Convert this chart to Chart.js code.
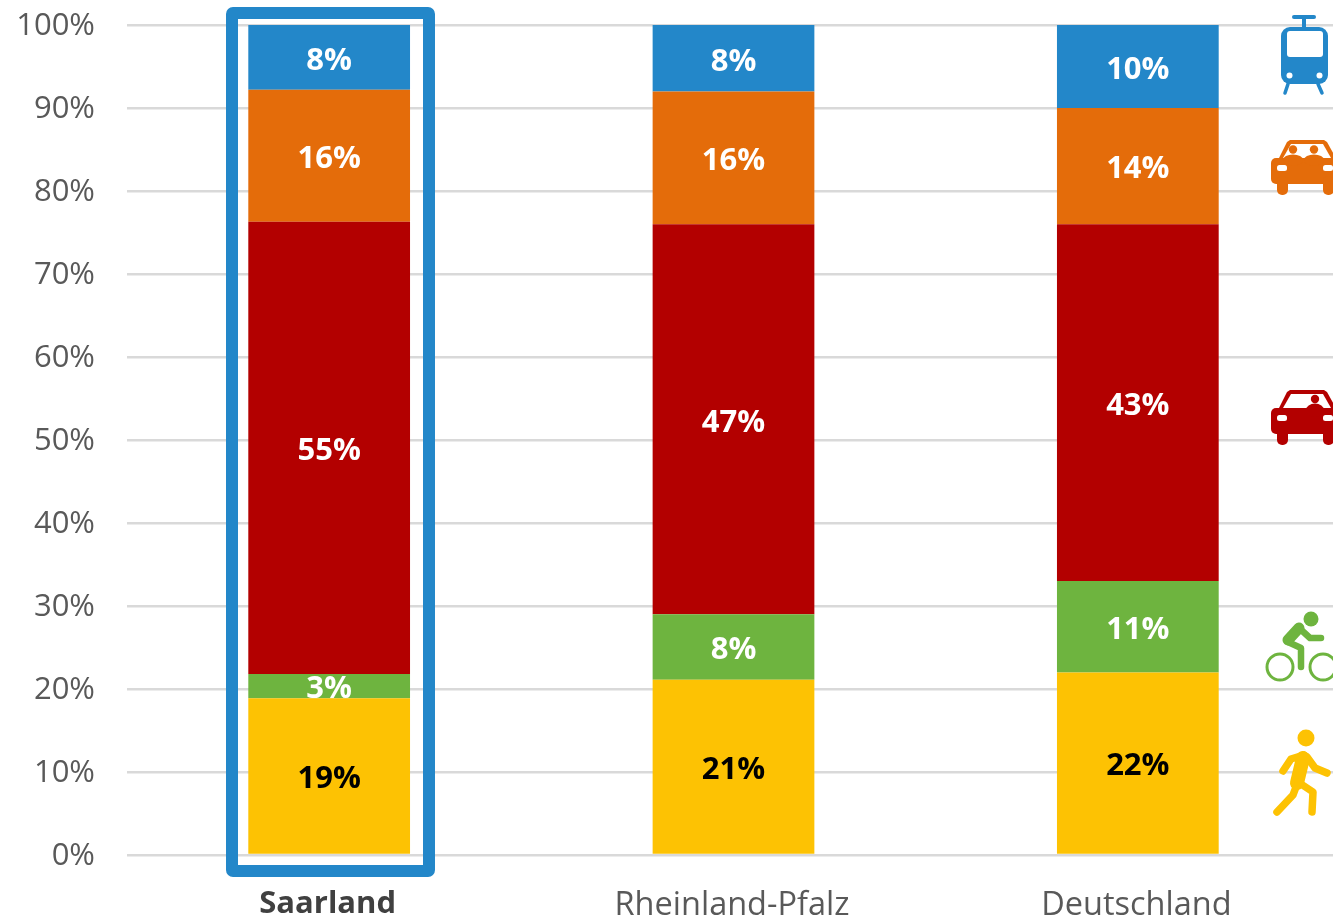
<!DOCTYPE html>
<html lang="de">
<head>
<meta charset="utf-8">
<style>
html,body{margin:0;padding:0;background:#fff;width:1333px;height:923px;overflow:hidden}
canvas{display:block}
</style>
<script src="https://cdn.jsdelivr.net/npm/chart.js@4"></script>
</head>
<body>
<canvas id="c" width="1340" height="923" style="width:1340px;height:923px"></canvas>
<script>
const categories = ['Saarland', 'Rheinland-Pfalz', 'Deutschland'];
const walking = [18.9, 21.1, 22];
const cycling = [2.9, 7.9, 11];
const carDriver = [54.5, 47, 43];
const carPassenger = [15.9, 16, 14];
const transit = [7.8, 8, 10];
const yTicks = ['0%','10%','20%','30%','40%','50%','60%','70%','80%','90%','100%'];
const BLUE='#2387c9', ORANGE='#e46c0a', RED='#b30000', GREEN='#6eb43f', YELLOW='#fdc203';
const FONT='"Open Sans", sans-serif';

function series(label,data,color,textColor){
  return {label,data,backgroundColor:color,textColor,borderWidth:0,stack:'s',barPercentage:0.4,categoryPercentage:1};
}

const labelsPlugin={id:'valueLabels',afterDatasetsDraw(chart){
  const ctx=chart.ctx;
  ctx.save();
  ctx.font='700 31px '+FONT;
  ctx.textAlign='center';
  ctx.textBaseline='middle';
  chart.data.datasets.forEach((ds,i)=>{
    chart.getDatasetMeta(i).data.forEach((el,j)=>{
      ctx.fillStyle=ds.textColor;
      ctx.fillText(Math.round(ds.data[j])+'%',el.x,(el.y+el.base)/2+3.5);
    });
  });
  ctx.restore();
}};

const framePlugin={id:'frame',afterDatasetsDraw(chart){
  const ctx=chart.ctx;
  ctx.save();
  ctx.strokeStyle=BLUE;
  ctx.lineWidth=12;
  ctx.lineJoin='round';
  ctx.beginPath();
  ctx.roundRect(232,13,197,858,1);
  ctx.stroke();
  ctx.restore();
}};

function line(ctx,pts,w,color){
  ctx.strokeStyle=color;ctx.lineWidth=w;ctx.lineCap='round';ctx.lineJoin='round';
  ctx.beginPath();
  pts.forEach((p,i)=>i?ctx.lineTo(p[0],p[1]):ctx.moveTo(p[0],p[1]));
  ctx.stroke();
}
function dot(ctx,x,y,r,color){ctx.fillStyle=color;ctx.beginPath();ctx.arc(x,y,r,0,Math.PI*2);ctx.fill();}
function rrect(ctx,x,y,w,h,r,color){ctx.fillStyle=color;ctx.beginPath();ctx.roundRect(x,y,w,h,r);ctx.fill();}
function poly(ctx,pts,color){
  ctx.fillStyle=color;ctx.beginPath();
  pts.forEach((p,i)=>i?ctx.lineTo(p[0],p[1]):ctx.moveTo(p[0],p[1]));
  ctx.closePath();ctx.fill();
}
function tram(ctx){
  const c=BLUE;
  rrect(ctx,1292,15,24,4,2,c);
  ctx.fillStyle=c;ctx.fillRect(1302,18,4,10);
  rrect(ctx,1281,27,47,57,9,c);
  rrect(ctx,1287,31,36,26,3,'#fff');
  dot(ctx,1289.5,75.5,3,'#fff');dot(ctx,1319.5,75.5,3,'#fff');
  line(ctx,[[1288,84],[1285,93]],3.5,c);
  line(ctx,[[1318,84],[1322,93]],3.5,c);
}
function car(ctx,y0,c,passenger){
  // y0 is the top of the roof
  ctx.lineJoin='round';
  poly(ctx,[[1278,y0+20],[1287,y0+2],[1290,y0],[1324,y0],[1327,y0+2],[1337,y0+20]],c);
  rrect(ctx,1271,y0+18,72,26,5,c);
  rrect(ctx,1277,y0+36,11,19,5,c);
  rrect(ctx,1323,y0+36,11,19,5,c);
  poly(ctx,[[1291,y0+4],[1323,y0+4],[1331,y0+18],[1283,y0+18]],'#fff');
  rrect(ctx,1277,y0+25,10,6,2.5,'#fff');
  rrect(ctx,1323,y0+25,10,6,2.5,'#fff');
  if(passenger){
    dot(ctx,1293,y0+9.5,4.2,c);dot(ctx,1314,y0+9.5,4.2,c);
    ctx.fillStyle=c;
    ctx.beginPath();ctx.ellipse(1293,y0+20,10,5.5,0,0,Math.PI*2);ctx.fill();
    ctx.beginPath();ctx.ellipse(1314,y0+20,10,5.5,0,0,Math.PI*2);ctx.fill();
  }else{
    dot(ctx,1315,y0+9,4.2,c);
    ctx.fillStyle=c;
    ctx.beginPath();ctx.ellipse(1315,y0+20,9,6.5,0,0,Math.PI*2);ctx.fill();
  }
}
function bike(ctx){
  const c=GREEN;
  dot(ctx,1311,619,7.5,c);
  [[1280,667],[1323,667]].forEach(p=>{
    ctx.strokeStyle=c;ctx.lineWidth=3;ctx.beginPath();ctx.arc(p[0],p[1],13,0,Math.PI*2);ctx.stroke();
  });
  line(ctx,[[1299,628],[1288,640]],11,c);
  line(ctx,[[1298,627],[1310,638],[1321,638]],6.5,c);
  line(ctx,[[1288,642],[1301,648],[1301,667]],6.5,c);
}
function walker(ctx){
  const c=YELLOW;
  dot(ctx,1306,738,8.5,c);
  line(ctx,[[1303,758],[1297,783]],14,c);
  line(ctx,[[1304,755],[1291,759],[1283,771]],7.5,c);
  line(ctx,[[1307,757],[1315,768],[1327,773]],7.5,c);
  line(ctx,[[1296,787],[1293,795],[1277,812]],7.5,c);
  line(ctx,[[1298,782],[1313,792],[1312,812]],7.5,c);
}
const iconPlugin={id:'icons',afterDraw(chart){
  const ctx=chart.ctx;
  ctx.save();
  tram(ctx);
  car(ctx,140,ORANGE,true);
  car(ctx,390,RED,false);
  bike(ctx);
  walker(ctx);
  ctx.restore();
}};

new Chart(document.getElementById('c'),{
  type:'bar',
  data:{
    labels:categories,
    datasets:[
      series('Zu Fuß',walking,YELLOW,'#000'),
      series('Fahrrad',cycling,GREEN,'#fff'),
      series('MIV Fahrer',carDriver,RED,'#fff'),
      series('MIV Mitfahrer',carPassenger,ORANGE,'#fff'),
      series('ÖPNV',transit,BLUE,'#fff')
    ]
  },
  plugins:[labelsPlugin,framePlugin,iconPlugin],
  options:{
    responsive:false,
    animation:false,
    devicePixelRatio:1,
    layout:{autoPadding:false,padding:{top:25,left:0,right:0,bottom:0}},
    plugins:{legend:{display:false},title:{display:false},tooltip:{enabled:false}},
    scales:{
      x:{
        stacked:true,
        grid:{display:false,drawTicks:false},
        border:{display:false},
        afterFit(s){s.height=68;},
        ticks:{
          padding:31,
          labelOffset:-1.5,
          maxRotation:0,autoSkip:false,
          color:c=>c.index===0?'#404040':'#595959',
          font:c=>({family:'"Open Sans", sans-serif',size:c.index===0?31:32.5,weight:c.index===0?'700':'400'})
        }
      },
      y:{
        stacked:true,
        min:0,max:100,
        afterFit(s){s.width=127;s.paddingTop=0;s.paddingBottom=0;},
        afterBuildTicks(s){s.ticks=yTicks.map((t,i)=>({value:i*10}));},
        grid:{color:'#d9d9d9',lineWidth:2.5,drawTicks:false},
        border:{display:false},
        ticks:{
          padding:32,
          labelOffset:1,
          color:'#595959',
          font:{family:'"Open Sans", sans-serif',size:31},
          callback:(v,i)=>yTicks[i]
        }
      }
    }
  }
});
</script>
</body>
</html>
